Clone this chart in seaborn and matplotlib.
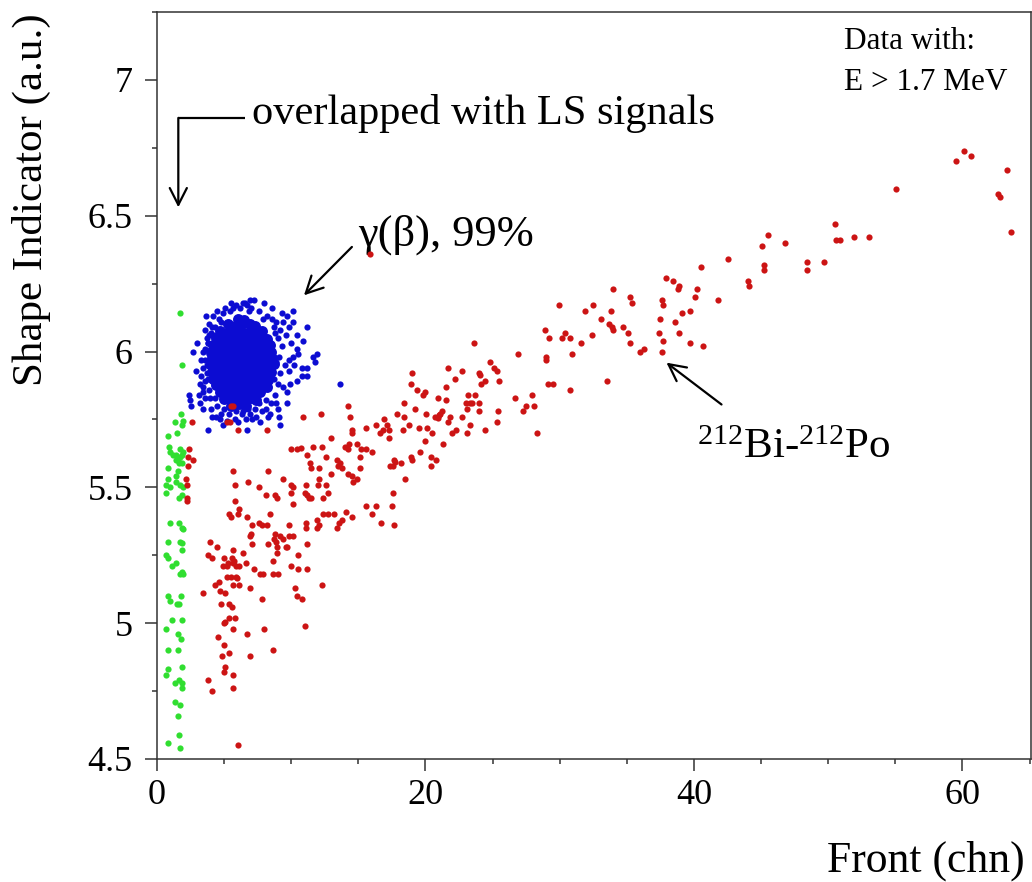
import numpy as np
import pandas as pd
import seaborn as sns
import matplotlib
matplotlib.use('Agg')
import matplotlib.pyplot as plt
import matplotlib.ticker as ticker

# values: (front channel, shape indicator)
green_pts=[(1.75,6.14),(1.85,5.95),(1.8,5.77),(1.35,5.74),(1.9,5.73),(1.95,5.745),(1.5,5.70),
    (0.85,5.69),(0.9,5.65),(0.97,5.63),(1.2,5.62),(1.45,5.62),(1.6,5.60),(1.7,5.61),(1.85,5.62),
    (1.9,5.59),(1.75,5.64),(1.95,5.63),(1.4,5.60),(1.65,5.59),(0.85,5.57),(1.55,5.56),(0.85,5.53),
    (0.7,5.51),(1.45,5.54),(1.4,5.52),(0.95,5.50),(1.7,5.51),(1.95,5.50),(0.7,5.48),(1.65,5.46),
    (1.9,5.47),(0.95,5.37),(1.65,5.37),(1.85,5.35),(1.95,5.345),(0.85,5.30),(1.75,5.30),(1.9,5.295),
    (1.85,5.27),(0.7,5.25),(0.85,5.24),(1.1,5.21),(1.45,5.22),(1.85,5.19),(1.75,5.18),(1.95,5.18),
    (0.85,5.10),(0.95,5.08),(1.5,5.07),(1.65,5.07),(1.8,5.10),(1.1,5.01),(1.9,5.01),(0.7,4.98),
    (1.6,4.96),(1.8,4.94),(0.85,4.90),(1.6,4.90),(1.9,4.84),(0.8,4.83),(0.7,4.81),(1.35,4.78),
    (1.65,4.79),(1.85,4.78),(1.9,4.76),(1.35,4.71),(1.7,4.70),(1.6,4.66),(1.65,4.59),(0.8,4.56),
    (1.7,4.54)]

blue_core_pts=[(6.0,6.12),(6.5,6.115),
    (5.3,6.10),(5.8,6.095),(6.3,6.10),(6.9,6.10),(7.3,6.095),
    (4.7,6.075),(5.2,6.07),(5.7,6.08),(6.2,6.075),(6.7,6.07),(7.2,6.08),(7.8,6.075),
    (4.4,6.05),(4.9,6.055),(5.4,6.045),(5.9,6.05),(6.4,6.055),(6.9,6.045),(7.4,6.05),(7.9,6.05),(8.2,6.045),
    (4.2,6.025),(4.6,6.03),(5.1,6.02),(5.6,6.025),(6.1,6.03),(6.6,6.02),(7.1,6.025),(7.6,6.03),(8.1,6.02),(8.4,6.025),
    (4.0,6.00),(4.5,6.005),(5.0,5.995),(5.5,6.00),(6.0,6.005),(6.5,5.995),(7.0,6.00),(7.5,6.005),(8.0,5.995),(8.5,6.00),
    (4.1,5.975),(4.6,5.98),(5.2,5.97),(5.7,5.975),(6.2,5.98),(6.7,5.97),(7.2,5.975),(7.7,5.98),(8.2,5.97),(8.6,5.975),
    (4.0,5.95),(4.4,5.955),(4.9,5.945),(5.4,5.95),(5.9,5.955),(6.4,5.945),(6.9,5.95),(7.4,5.955),(7.9,5.945),(8.4,5.95),(8.7,5.955),
    (4.1,5.925),(4.6,5.93),(5.1,5.92),(5.6,5.925),(6.1,5.93),(6.6,5.92),(7.1,5.925),(7.6,5.93),(8.1,5.92),(8.5,5.925),
    (4.2,5.90),(4.8,5.905),(5.3,5.895),(5.8,5.90),(6.3,5.905),(6.8,5.895),(7.3,5.90),(7.8,5.905),(8.3,5.895),
    (4.4,5.875),(4.9,5.88),(5.4,5.87),(5.9,5.875),(6.4,5.88),(6.9,5.87),(7.4,5.875),(7.9,5.88),(8.2,5.87),
    (4.7,5.85),(5.2,5.855),(5.7,5.845),(6.2,5.85),(6.7,5.855),(7.2,5.845),(7.7,5.85),
    (5.0,5.825),(5.5,5.83),(6.0,5.82),(6.5,5.825),(7.0,5.83),(7.4,5.82),
    (5.5,5.80),(6.1,5.805),(6.6,5.80)]

blue_pts=[(7.2,6.19),(8.0,6.18),(6.55,6.18),(6.7,6.17),(6.85,6.15),(6.2,6.16),(5.7,6.16),(5.45,6.15),
    (4.95,6.14),(4.8,6.11),(3.65,6.13),(10.1,6.15),(9.4,6.11),(9.65,6.13),(8.55,6.12),(8.7,6.09),
    (10.1,6.11),(11.15,6.09),(10.4,6.06),(10.85,6.04),(10.4,6.01),(10.5,5.99),(10.15,5.98),(9.8,5.97),
    (11.6,5.98),(11.95,5.99),(11.15,5.94),(10.8,5.94),(11.8,5.96),(11.15,5.91),(10.8,5.91),(10.4,5.89),
    (9.9,5.88),(9.65,5.85),(9.4,5.87),(8.9,5.81),(9.05,5.79),(9.65,5.81),(8.4,5.77),(9.1,5.76),
    (9.15,5.73),(6.9,5.77),(7.4,5.76),(7.65,5.74),(6.7,5.71),(6.05,5.74),(6.3,5.77),(5.2,5.745),
    (4.8,5.77),(4.7,5.75),(4.95,5.73),(3.8,5.71),(3.2,5.81),(3.45,5.79),(2.4,5.84),(2.45,5.82),
    (2.5,5.80),(3.95,5.83),(4.05,5.79),(3.45,5.87),(3.45,5.85),(3.2,5.88),(3.55,5.89),(3.3,5.91),
    (2.65,6.00),(3.45,6.00),(3.55,5.97),(3.45,5.94),(3.7,5.92),(3.55,6.08),(3.7,6.05),(3.8,6.03),
    (3.55,6.01),(4.3,6.09),(4.2,6.06),(13.6,5.88),
    (3.9,6.10),(4.2,6.13),(4.5,6.15),(5.1,6.16),(5.9,6.17),(6.4,6.18),(7.0,6.16),(7.6,6.15),
    (8.2,6.13),(8.9,6.11),(9.2,6.08),(9.0,6.05),(9.3,6.02),(9.1,5.98),(9.5,5.95),(9.2,5.92),
    (9.0,5.88),(8.8,5.84),(8.5,5.81),(8.1,5.79),(7.8,5.78),(7.3,5.79),(6.8,5.79),(6.4,5.78),
    (5.9,5.78),(5.4,5.77),(5.0,5.79),(4.5,5.80),(4.3,5.83),(3.9,5.86),(3.8,5.90),(3.7,5.95),
    (3.9,5.99),(3.8,6.03),(3.9,6.06),(4.1,6.09),(10.0,6.03),(9.8,5.93),(10.2,5.95),(9.6,6.06),
    (3.3,5.97),(3.1,5.84),(2.9,5.93),(3.0,6.03),(4.4,5.76),(7.1,5.75),(8.3,5.76),(5.8,5.75),
    (6.9,6.19),(5.5,6.18),(8.6,6.16),(9.3,6.14),(7.9,6.12),(9.8,6.09),(8.9,5.96),(8.7,5.90),
    (4.6,6.12),(4.0,6.07),(3.6,5.83),(4.1,5.76),(6.6,5.75),(7.6,5.81),(8.1,5.82),(8.8,6.07)]

red_pts=[(59.55,6.70),(60.1,6.74),(60.66,6.72),(63.3,6.67),(62.65,6.58),(62.8,6.57),(63.6,6.44),
    (55.05,6.60),(50.5,6.47),(50.6,6.41),(50.9,6.41),(51.9,6.42),(53.0,6.42),(45.5,6.43),(45.05,6.39),
    (46.8,6.40),(42.5,6.34),(45.2,6.32),(45.2,6.30),(48.4,6.33),(48.4,6.30),(49.7,6.33),(40.5,6.31),
    (44.0,6.26),(44.1,6.24),(40.2,6.23),(40.1,6.20),(41.8,6.19),(38.9,6.24),(39.1,6.14),(39.7,6.15),
    (38.9,6.07),(39.7,6.03),(40.65,6.02),
    (37.9,6.27),(38.4,6.26),(38.8,6.23),(37.65,6.19),(37.7,6.17),(37.5,6.12),(38.6,6.11),(37.4,6.07),
    (37.7,6.04),(37.6,6.00),(34.0,6.23),(35.2,6.20),(35.4,6.18),(33.8,6.15),(33.1,6.12),(33.7,6.10),
    (33.9,6.09),(34.0,6.08),(34.7,6.09),(35.1,6.07),(35.2,6.03),(36.0,6.00),(36.3,6.01),(33.5,5.89),
    (32.5,6.17),(31.9,6.15),(32.4,6.06),(31.6,6.03),(30.9,5.99),(30.8,5.86),(29.95,6.17),(30.4,6.07),
    (30.2,6.05),(30.8,6.05),(28.9,6.08),(29.2,6.05),(29.0,5.98),(29.0,5.97),(29.1,5.88),(29.5,5.88),
    (26.9,5.99),(26.7,5.83),(27.9,5.84),(27.5,5.80),(28.1,5.80),(27.25,5.78),(28.3,5.70),(23.6,6.03),
    (24.8,5.96),(25.1,5.94),(25.3,5.93),(25.5,5.89),(24.0,5.92),(24.05,5.915),(24.4,5.89),(24.1,5.88),
    (22.7,5.93),(22.2,5.90),(21.7,5.94),(21.5,5.87),(23.2,5.84),(23.7,5.84),(23.0,5.81),(23.3,5.81),
    (23.5,5.81),(24.0,5.81),(23.1,5.79),(24.0,5.78),(25.4,5.78),(25.3,5.74),(24.4,5.71),(23.1,5.70),
    (23.3,5.73),(22.7,5.76),(22.3,5.71),(22.0,5.70),(21.8,5.76),(21.7,5.74),(21.5,5.82),(20.9,5.83),
    (21.1,5.77),(21.2,5.78),(20.7,5.76),(20.9,5.755),(21.0,5.765),(20.05,5.77),(19.8,5.84),(19.95,5.85),
    (19.4,5.86),(18.9,5.88),(19.0,5.92),(18.4,5.81),(19.2,5.79),(18.4,5.76),(18.8,5.73),(19.5,5.72),
    (20.1,5.72),(20.5,5.70),(20.0,5.67),(21.3,5.66),(19.6,5.63),(18.95,5.61),(19.0,5.60),(20.4,5.61),
    (20.8,5.60),(20.4,5.58),(18.2,5.59),(18.5,5.53),
    (14.2,5.80),(12.2,5.77),(10.9,5.76),(14.4,5.76),(17.9,5.77),(16.9,5.75),(17.1,5.73),(17.3,5.71),
    (16.85,5.71),(16.6,5.70),(17.3,5.68),(16.35,5.73),(15.6,5.72),(14.5,5.71),(14.55,5.70),(18.3,5.71),
    (2.6,5.74),(6.05,5.71),(8.2,5.71),(2.65,5.60),(13.0,5.68),(11.6,5.65),(12.3,5.65),(10.0,5.64),
    (10.45,5.64),(10.7,5.645),(14.0,5.65),(14.2,5.64),(14.3,5.66),(14.9,5.66),(15.2,5.64),(15.6,5.64),
    (16.0,5.63),(11.2,5.62),(12.6,5.61),(13.4,5.60),(15.1,5.61),(13.6,5.59),(11.4,5.59),(11.5,5.57),
    (12.1,5.57),(13.0,5.55),(13.45,5.58),(13.75,5.57),(14.2,5.55),(14.5,5.54),(14.6,5.52),(14.9,5.53),
    (15.1,5.57),(17.35,5.58),(17.55,5.58),(17.65,5.60),(17.75,5.595),(5.7,5.56),(8.3,5.56),(9.4,5.53),
    (5.8,5.51),(6.75,5.52),(7.6,5.50),(10.0,5.51),(10.15,5.50),(11.1,5.51),(12.1,5.53),(12.0,5.51),
    (12.6,5.51),(12.75,5.48),(12.4,5.46),(11.0,5.48),(11.15,5.47),(11.3,5.46),(11.5,5.46),(9.95,5.48),
    (10.1,5.44),(8.1,5.47),(8.8,5.47),(8.95,5.46),(5.8,5.45),(6.1,5.42),(5.4,5.40),(5.5,5.39),
    (6.05,5.40),(6.7,5.39),(8.4,5.40),(7.6,5.37),(7.8,5.36),(8.2,5.36),(7.05,5.36),(9.8,5.36),
    (11.1,5.37),(11.9,5.38),(12.1,5.36),(12.4,5.40),(12.75,5.40),(13.2,5.40),(13.4,5.35),(13.75,5.38),
    (13.55,5.37),(11.9,5.35),(11.1,5.35),(14.1,5.41),(14.5,5.39),(15.6,5.43),(16.35,5.43),(16.0,5.40),
    (16.7,5.37),(17.65,5.36),(17.5,5.43),(17.6,5.48),(3.95,5.30),(4.5,5.28),(3.8,5.25),(4.1,5.24),
    (5.0,5.24),(5.6,5.24),(5.75,5.23),(5.7,5.22),(5.3,5.22),(4.9,5.21),(5.2,5.21),(5.9,5.21),
    (6.1,5.21),(6.6,5.22),(5.7,5.27),(7.0,5.33),(6.9,5.32),(7.05,5.29),(6.4,5.26),(8.3,5.29),
    (8.7,5.31),(8.85,5.30),(8.95,5.28),(8.95,5.26),(9.15,5.32),(9.4,5.31),(9.6,5.28),(8.8,5.33),
    (9.85,5.32),(10.1,5.32),(9.7,5.28),(11.2,5.29),(10.5,5.25),(9.95,5.21),(10.5,5.20),(11.2,5.20),
    (8.65,5.23),(7.25,5.20),(7.7,5.18),(7.9,5.18),(8.65,5.18),(9.0,5.18),(5.2,5.17),(5.5,5.17),
    (5.9,5.17),(5.95,5.165),(5.7,5.14),(6.1,5.14),(4.3,5.14),(4.6,5.15),(3.4,5.11),(4.7,5.12),
    (5.1,5.11),(6.9,5.13),(4.8,5.07),(5.4,5.07),(5.6,5.06),(7.8,5.09),(10.3,5.13),(10.4,5.10),
    (10.8,5.09),(12.3,5.14),(5.4,5.02),(5.8,5.02),(5.0,5.00),(5.1,5.005),(5.7,4.98),(8.0,4.98),
    (6.7,4.96),(11.0,4.99),(4.55,4.95),(5.0,4.92),(4.85,4.88),(5.4,4.89),(6.9,4.88),(8.65,4.90),
    (5.1,4.84),(5.0,4.82),(5.7,4.81),(3.8,4.79),(4.1,4.75),(5.7,4.76),(6.0,4.55),
    (2.35,5.64),(2.3,5.61),(2.3,5.58),(2.15,5.53),(2.25,5.51),(2.2,5.46),(2.25,5.45),
    (5.25,5.74),(5.45,5.74),(5.55,5.80),(5.7,5.80),(15.9,6.36)]

def to_df(pts):
    return pd.DataFrame(pts,columns=['front','shape'])

sns.set_theme(style='ticks')
plt.rcParams['font.family']=['Liberation Serif','DejaVu Serif']
plt.rcParams['mathtext.fontset']='custom'
plt.rcParams['mathtext.rm']='Liberation Serif'
plt.rcParams['mathtext.it']='Liberation Serif:italic'
plt.rcParams['text.color']='black'
plt.rcParams['xtick.labelcolor']='black'
plt.rcParams['ytick.labelcolor']='black'

fig=plt.figure(figsize=(10.32,8.82),dpi=100)
ax=fig.add_axes([0.1521,0.1395,0.8469,0.8469])

kw=dict(x='front',y='shape',linewidth=0,legend=False,ax=ax)
sns.scatterplot(data=to_df(green_pts),color='#30de30',s=20,zorder=3,**kw)
sns.scatterplot(data=to_df(blue_core_pts),color='#0c0cd2',s=62,zorder=3,**kw)
sns.scatterplot(data=to_df(blue_pts),color='#0c0cd2',s=20,zorder=3,**kw)
sns.scatterplot(data=to_df(red_pts),color='#cc1414',s=20,zorder=4,**kw)

ax.set_xlim(0,65.1)
ax.set_ylim(4.5,7.25)
ax.xaxis.set_major_locator(ticker.MultipleLocator(20))
ax.xaxis.set_minor_locator(ticker.MultipleLocator(5))
ax.yaxis.set_major_locator(ticker.MultipleLocator(0.5))
ax.yaxis.set_minor_locator(ticker.MultipleLocator(0.25))
ax.yaxis.set_major_formatter(ticker.FuncFormatter(lambda v,p:'%g'%v))
ax.tick_params(which='major',direction='out',length=8.5,width=1.1,labelsize=26,
               color='#333333',labelcolor='black')
ax.tick_params(axis='y',which='major',pad=9)
ax.tick_params(axis='x',which='major',pad=6)
ax.tick_params(which='minor',direction='out',length=3.6,width=1.1,color='#333333')
for sp in ax.spines.values():
    sp.set_visible(True)
    sp.set_color('#333333')
    sp.set_linewidth(1.1)
ax.set_xlabel('')
ax.set_ylabel('')

fig.text(31/1032,1-200/882,'Shape Indicator (a.u.)',rotation=90,ha='center',va='center',fontsize=31)
fig.text(1025/1032,1-861/882,'Front (chn)',ha='right',va='center',fontsize=31.5)

# annotations
arr=dict(arrowstyle='->,head_length=0.55,head_width=0.28',lw=1.6,color='black',
         shrinkA=0,shrinkB=0,mutation_scale=22)
ax.text(7.07,6.875,'overlapped with LS signals',fontsize=30.5,ha='left',va='center')
ax.plot([6.55,1.59],[6.86,6.86],color='black',lw=1.6,solid_capstyle='butt')
ax.annotate('',xy=(1.59,6.531),xytext=(1.59,6.86),arrowprops=arr)

ax.text(14.97,6.43,'γ(β), 99%',fontsize=32,ha='left',va='center')
ax.annotate('',xy=(10.95,6.207),xytext=(14.52,6.385),arrowprops=arr)

ax.text(51.2,7.141,'Data with:',fontsize=22.5,ha='left',va='center')
ax.text(51.2,6.989,'E > 1.7 MeV',fontsize=22.5,ha='left',va='center')

ax.text(40.2,5.607,r'$^{212}$Bi-$^{212}$Po',fontsize=31,ha='left',va='baseline')
ax.annotate('',xy=(37.95,5.959),xytext=(42.05,5.805),arrowprops=arr)

fig.savefig('out.png',dpi=100)
